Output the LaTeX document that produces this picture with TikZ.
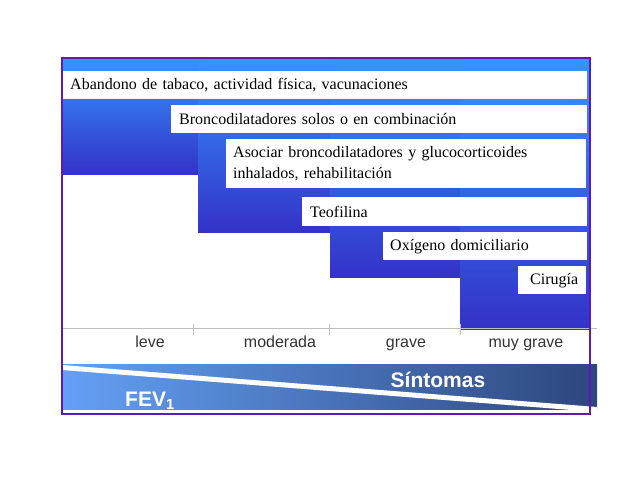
\documentclass[tikz,border=0pt]{standalone}
\usepackage{fontspec}
\setmainfont{Liberation Serif}
\setsansfont{Liberation Sans}
\definecolor{stepTop}{RGB}{51,150,255}
\definecolor{stepBot}{RGB}{52,50,200}
\definecolor{frameCol}{RGB}{95,25,185}
\definecolor{bandLeft}{RGB}{100,160,245}
\definecolor{bandRight}{RGB}{45,70,125}
\definecolor{axisCol}{RGB}{190,190,190}

\begin{document}
\begin{tikzpicture}
    [x=1pt,y=-1pt,
     treat/.style={fill=white,anchor=north west,inner xsep=8pt,inner ysep=0pt,
       align=left,font=\fontsize{16}{21}\selectfont},
     stage/.style={anchor=base,font=\sffamily\fontsize{16}{18}\selectfont,text=black!80},
     band/.style={anchor=base,font=\sffamily\bfseries\fontsize{21}{22}\selectfont,text=white}]
  \useasboundingbox (0,0) rectangle (638,479);
  % blue steps
  \shade[top color=stepTop,bottom color=stepBot] (62,58) rectangle (198,174);
  \shade[top color=stepTop,bottom color=stepBot] (198,58) rectangle (330,232);
  \shade[top color=stepTop,bottom color=stepBot] (330,58) rectangle (460,277);
  \shade[top color=stepTop,bottom color=stepBot] (460,58) rectangle (590,329);
  % treatments
  \node[treat,text width=509pt,minimum height=28pt] (tabaco) at (62,71)
    {Abandono de tabaco, actividad física, vacunaciones};
  \node[treat,text width=400pt,minimum height=28pt] (bronco) at (171,105)
    {Broncodilatadores solos o en combinación};
  \node[treat,text width=346pt,minimum height=49pt,inner xsep=7pt] (asociar) at (226,139)
    {Asociar broncodilatadores y glucocorticoides\\inhalados, rehabilitación};
  \node[treat,text width=269pt,minimum height=29pt] (teofilina) at (302,197)
    {Teofilina};
  \node[treat,text width=190pt,minimum height=28pt,inner xsep=7pt] (oxigeno) at (383,232)
    {Oxígeno domiciliario};
  \node[treat,text width=52pt,minimum height=28pt,align=right] (cirugia) at (518,266)
    {Cirugía};
  % severity axis
  \coordinate (axisL) at (62,328);
  \coordinate (axisR) at (597,328);
  \draw[axisCol] (axisL) -- (axisR);
  \foreach \t in {193,329,460}
    \draw[axisCol] (\t,324) -- (\t,335);
  \node[stage] (leve) at (150,347) {leve};
  \node[stage] (moderada) at (280,347) {moderada};
  \node[stage] (grave) at (406,347) {grave};
  \node[stage] (muygrave) at (526,347) {muy grave};
  % FEV1 / symptoms band
  \shade[left color=bandLeft,right color=bandRight] (62,364) rectangle (597,409);
  \fill[white] (62,365) -- (597,407) -- (597,412) -- (62,370) -- cycle;
  \node[band] (sintomas) at (438,387) {Síntomas};
  \node[band] (fev) at (150,406) {FEV\textsubscript{1}};
  % frame
  \draw[frameCol,line width=2.5] (62,58) rectangle (590,414);
\end{tikzpicture}
\end{document}
